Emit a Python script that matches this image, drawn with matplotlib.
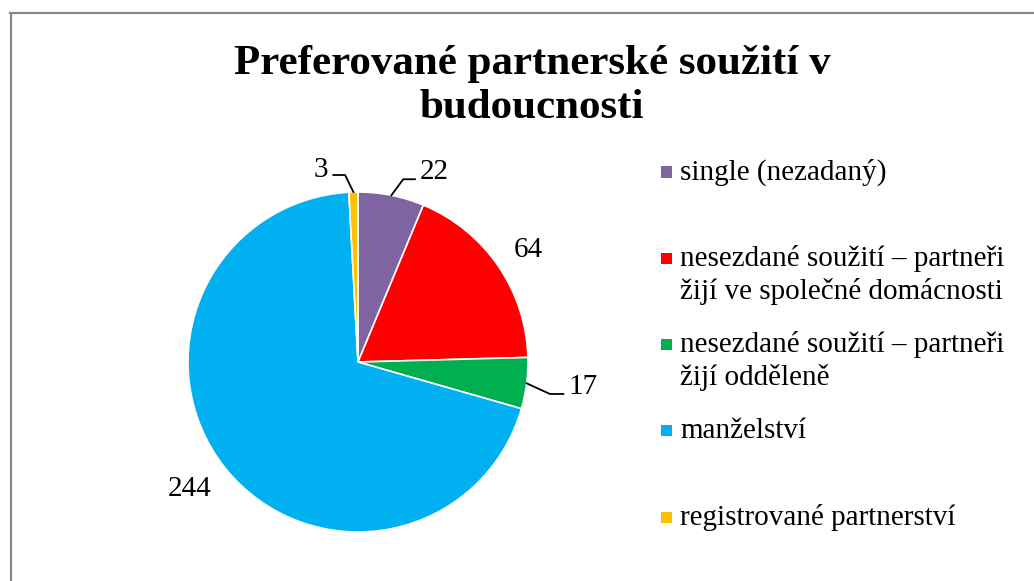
import matplotlib
matplotlib.use("Agg")
import matplotlib.pyplot as plt
import numpy as np
from matplotlib.patches import Rectangle
from matplotlib.lines import Line2D

plt.rcParams['font.family'] = ['Liberation Serif', 'DejaVu Serif']

# ---- data ----
title = "Preferované partnerské soužití v\nbudoucnosti"
categories = ["single (nezadaný)",
              "nesezdané soužití – partneři\nžijí ve společné domácnosti",
              "nesezdané soužití – partneři\nžijí odděleně",
              "manželství",
              "registrované partnerství"]
values = [22, 64, 17, 244, 3]
colors = ["#8064A2", "#FF0000", "#00B050", "#00B0F0", "#FFC000"]

# ---- layout ----
W, H = 1034, 581
fig = plt.figure(figsize=(W / 100, H / 100), dpi=100)
cx, cy, R = 358, 362, 170
ax = fig.add_axes([(cx - R) / W, (H - cy - R) / H, 2 * R / W, 2 * R / H])
wedges, _ = ax.pie(values, colors=colors, startangle=90, counterclock=False,
                   radius=1, wedgeprops=dict(edgecolor='white', linewidth=1.2))
ax.set_xlim(-1, 1)
ax.set_ylim(-1, 1)
ax.axis('off')

# label placement (radius units): text x, text y, ha, leader (elbow x, elbow y, end x)
label_layout = [
    (0.365, 1.118, 'left', (0.266, 1.075, 0.335)),
    (1.0, 0.659, 'center', None),
    (1.235, -0.147, 'left', (1.129, -0.188, 1.208)),
    (-0.988, -0.747, 'center', None),
    (-0.178, 1.129, 'right', (-0.076, 1.100, -0.145)),
]
for w, v, (tx, ty, ha, leader) in zip(wedges, values, label_layout):
    ax.text(tx, ty, str(v), ha=ha, va='center', fontsize=21, clip_on=False)
    if leader is not None:
        th = np.deg2rad((w.theta1 + w.theta2) / 2)
        ex, ey, endx = leader
        ax.plot([np.cos(th), ex, endx], [np.sin(th), ey, ey], color='black',
                lw=1.3, clip_on=False)

# title
fig.text(532 / W, 1 - 45 / H, title, ha='center', va='top', fontsize=31,
         fontweight='bold', linespacing=1.2)

# legend (manual)
leg_y0, leg_dy, line_dy = 172, 86.3, 33
for i, (lab, col) in enumerate(zip(categories, colors)):
    y = leg_y0 + i * leg_dy
    fig.patches.append(Rectangle((661 / W, 1 - (y + 5.5) / H), 11 / W, 11 / H,
                                 transform=fig.transFigure, facecolor=col,
                                 edgecolor='none'))
    for k, line in enumerate(lab.split("\n")):
        fig.text(680 / W, 1 - (y + k * line_dy) / H, line, ha='left', va='center',
                 fontsize=21)

# border
fig.lines.append(Line2D([10.5 / W, 10.5 / W], [0, 1 - 13 / H], transform=fig.transFigure,
                        color='#868686', lw=1.5))
fig.lines.append(Line2D([10 / W, 1], [1 - 13 / H, 1 - 13 / H], transform=fig.transFigure,
                        color='#868686', lw=1.5))

fig.savefig("out.png", dpi=100)
